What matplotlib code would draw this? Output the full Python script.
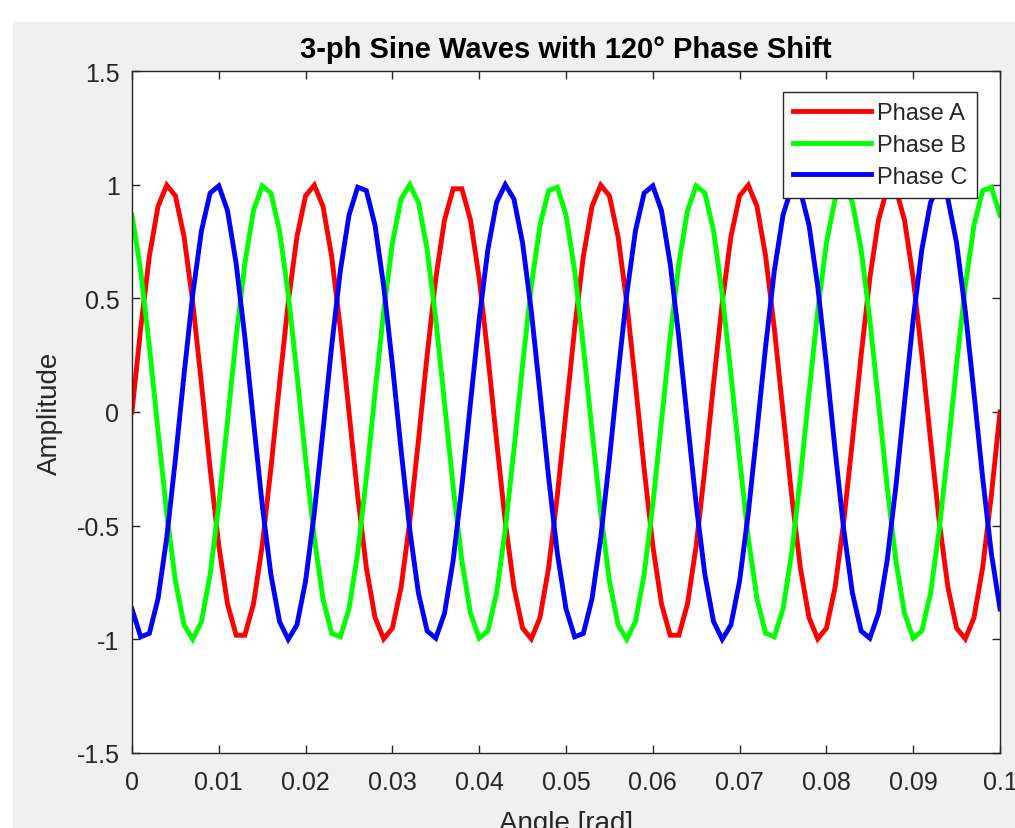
import matplotlib
matplotlib.use("Agg")
import matplotlib.pyplot as plt
from matplotlib.patches import Rectangle

# ---- data ----
angle = [
    0.000, 0.001, 0.002, 0.003, 0.004, 0.005, 0.006, 0.007, 0.008, 0.009,
    0.010, 0.011, 0.012, 0.013, 0.014, 0.015, 0.016, 0.017, 0.018, 0.019,
    0.020, 0.021, 0.022, 0.023, 0.024, 0.025, 0.026, 0.027, 0.028, 0.029,
    0.030, 0.031, 0.032, 0.033, 0.034, 0.035, 0.036, 0.037, 0.038, 0.039,
    0.040, 0.041, 0.042, 0.043, 0.044, 0.045, 0.046, 0.047, 0.048, 0.049,
    0.050, 0.051, 0.052, 0.053, 0.054, 0.055, 0.056, 0.057, 0.058, 0.059,
    0.060, 0.061, 0.062, 0.063, 0.064, 0.065, 0.066, 0.067, 0.068, 0.069,
    0.070, 0.071, 0.072, 0.073, 0.074, 0.075, 0.076, 0.077, 0.078, 0.079,
    0.080, 0.081, 0.082, 0.083, 0.084, 0.085, 0.086, 0.087, 0.088, 0.089,
    0.090, 0.091, 0.092, 0.093, 0.094, 0.095, 0.096, 0.097, 0.098, 0.099,
    0.100,
]

phase_a = [
    0.000, 0.368, 0.685, 0.905, 0.998, 0.951, 0.771, 0.482, 0.125, -0.249,
    -0.588, -0.844, -0.982, -0.982, -0.844, -0.588, -0.249, 0.125, 0.482, 0.771,
    0.951, 0.998, 0.905, 0.685, 0.368, 0.000, -0.368, -0.685, -0.905, -0.998,
    -0.951, -0.771, -0.482, -0.125, 0.249, 0.588, 0.844, 0.982, 0.982, 0.844,
    0.588, 0.249, -0.125, -0.482, -0.771, -0.951, -0.998, -0.905, -0.685, -0.368,
    0.000, 0.368, 0.685, 0.905, 0.998, 0.951, 0.771, 0.482, 0.125, -0.249,
    -0.588, -0.844, -0.982, -0.982, -0.844, -0.588, -0.249, 0.125, 0.482, 0.771,
    0.951, 0.998, 0.905, 0.685, 0.368, 0.000, -0.368, -0.685, -0.905, -0.998,
    -0.951, -0.771, -0.482, -0.125, 0.249, 0.588, 0.844, 0.982, 0.982, 0.844,
    0.588, 0.249, -0.125, -0.482, -0.771, -0.951, -0.998, -0.905, -0.685, -0.368,
    0.000,
]

phase_b = [
    0.866, 0.621, 0.289, -0.084, -0.445, -0.743, -0.937, -1.000, -0.922, -0.715,
    -0.407, -0.042, 0.329, 0.653, 0.886, 0.995, 0.963, 0.797, 0.518, 0.167,
    -0.208, -0.553, -0.821, -0.974, -0.989, -0.866, -0.621, -0.289, 0.084, 0.445,
    0.743, 0.937, 1.000, 0.922, 0.715, 0.407, 0.042, -0.329, -0.653, -0.886,
    -0.995, -0.963, -0.797, -0.518, -0.167, 0.208, 0.553, 0.821, 0.974, 0.989,
    0.866, 0.621, 0.289, -0.084, -0.445, -0.743, -0.937, -1.000, -0.922, -0.715,
    -0.407, -0.042, 0.329, 0.653, 0.886, 0.995, 0.963, 0.797, 0.518, 0.167,
    -0.208, -0.553, -0.821, -0.974, -0.989, -0.866, -0.621, -0.289, 0.084, 0.445,
    0.743, 0.937, 1.000, 0.922, 0.715, 0.407, 0.042, -0.329, -0.653, -0.886,
    -0.995, -0.963, -0.797, -0.518, -0.167, 0.208, 0.553, 0.821, 0.974, 0.989,
    0.866,
]

phase_c = [
    -0.866, -0.989, -0.974, -0.821, -0.553, -0.208, 0.167, 0.518, 0.797, 0.963,
    0.995, 0.886, 0.653, 0.329, -0.042, -0.407, -0.715, -0.922, -1.000, -0.937,
    -0.743, -0.445, -0.084, 0.289, 0.621, 0.866, 0.989, 0.974, 0.821, 0.553,
    0.208, -0.167, -0.518, -0.797, -0.963, -0.995, -0.886, -0.653, -0.329, 0.042,
    0.407, 0.715, 0.922, 1.000, 0.937, 0.743, 0.445, 0.084, -0.289, -0.621,
    -0.866, -0.989, -0.974, -0.821, -0.553, -0.208, 0.167, 0.518, 0.797, 0.963,
    0.995, 0.886, 0.653, 0.329, -0.042, -0.407, -0.715, -0.922, -1.000, -0.937,
    -0.743, -0.445, -0.084, 0.289, 0.621, 0.866, 0.989, 0.974, 0.821, 0.553,
    0.208, -0.167, -0.518, -0.797, -0.963, -0.995, -0.886, -0.653, -0.329, 0.042,
    0.407, 0.715, 0.922, 1.000, 0.937, 0.743, 0.445, 0.084, -0.289, -0.621,
    -0.866,
]

series_names = ["Phase A", "Phase B", "Phase C"]
series_colors = ["#ff0000", "#00ff00", "#0000ff"]

x_ticks = [0, 0.01, 0.02, 0.03, 0.04, 0.05, 0.06, 0.07, 0.08, 0.09, 0.1]
x_tick_labels = ["0", "0.01", "0.02", "0.03", "0.04", "0.05", "0.06",
                 "0.07", "0.08", "0.09", "0.1"]
y_ticks = [-1.5, -1, -0.5, 0, 0.5, 1, 1.5]
y_tick_labels = ["-1.5", "-1", "-0.5", "0", "0.5", "1", "1.5"]

title_text = "3-ph Sine Waves with 120° Phase Shift"
x_label = "Angle [rad]"
y_label = "Amplitude"

# ---- figure ----
plt.rcParams["font.family"] = ["Liberation Sans", "DejaVu Sans"]
W, H, DPI = 1015, 829, 100
fig = plt.figure(figsize=(W / DPI, H / DPI), dpi=DPI, facecolor="white")

# grey window background (white strip at top and left like the screenshot)
fig.patches.append(Rectangle((13 / W, 0), 1 - 13 / W, (H - 23) / H,
                             transform=fig.transFigure, facecolor="#f0f0f0",
                             edgecolor="none", zorder=-10))

ax_left, ax_right, ax_top, ax_bottom = 132, 1000, 72, 754
ax = fig.add_axes([ax_left / W, (H - ax_bottom) / H,
                   (ax_right - ax_left) / W, (ax_bottom - ax_top) / H])
ax.set_facecolor("white")

for ys, name, col in zip([phase_a, phase_b, phase_c], series_names, series_colors):
    ax.plot(angle, ys, color=col, lw=3.5, label=name, solid_joinstyle="miter")

ax.set_xlim(0, 0.1)
ax.set_ylim(-1.5, 1.5)
ax.set_xticks(x_ticks)
ax.set_xticklabels(x_tick_labels)
ax.set_yticks(y_ticks)
ax.set_yticklabels(y_tick_labels)

axcol = "#262626"
for s in ax.spines.values():
    s.set_color(axcol)
    s.set_linewidth(1.0)
ax.tick_params(direction="in", length=6, width=1.0, colors=axcol,
               labelsize=18, top=True, right=True)
ax.tick_params(axis="x", pad=12)
ax.tick_params(axis="y", pad=9)
for lab in ax.get_xticklabels() + ax.get_yticklabels():
    lab.set_color(axcol)

ax.set_title(title_text, fontsize=21, fontweight="bold", color="black", pad=10)
ax.set_xlabel(x_label, fontsize=20, color=axcol, labelpad=12)
ax.set_ylabel(y_label, fontsize=20, color=axcol, labelpad=10)

leg = ax.legend(loc="upper right", bbox_to_anchor=(1 - 23 / 868, 1 - 21 / 682),
                borderaxespad=0, fontsize=17, frameon=True, fancybox=False,
                edgecolor=axcol, framealpha=1, handlelength=3.3,
                handletextpad=0.25, labelspacing=0.42, borderpad=0.42)
leg.get_frame().set_linewidth(1.0)
for t in leg.get_texts():
    t.set_color(axcol)

fig.savefig("out.png", dpi=DPI, facecolor=fig.get_facecolor())
